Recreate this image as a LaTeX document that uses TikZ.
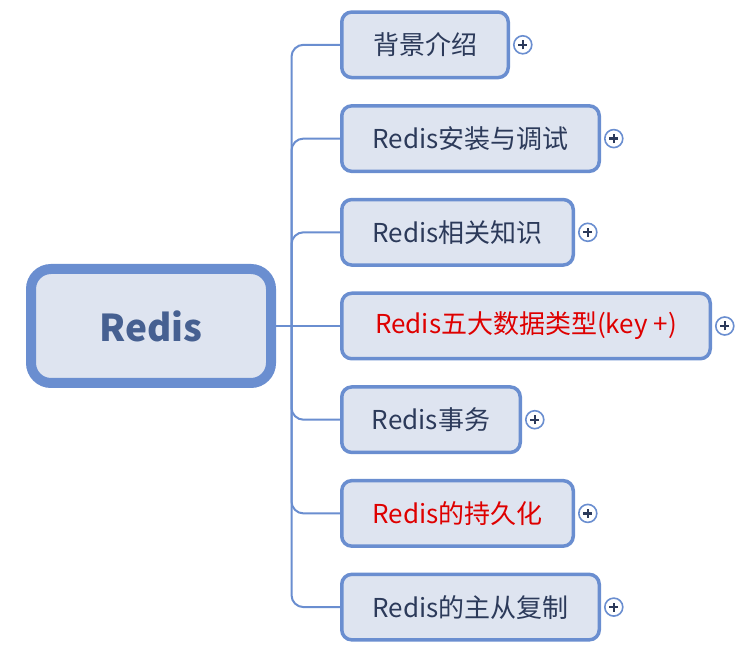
\documentclass[tikz,border=0pt]{standalone}
\usepackage{fontspec}
\usetikzlibrary{positioning}
\newfontfamily\cjk{Noto Sans CJK SC}
\definecolor{edgeblue}{RGB}{106,142,208}
\definecolor{boxfill}{RGB}{222,228,240}
\definecolor{navy}{RGB}{44,58,90}
\definecolor{rootblue}{RGB}{70,96,145}
\definecolor{alert}{RGB}{222,0,0}

\tikzset{
  topic/.style={draw=edgeblue,fill=boxfill,line width=3.5pt,rounded corners=10pt,
    minimum height=65.5pt,inner sep=0pt,anchor=west,text=navy,
    font=\cjk\fontsize{26}{30}\selectfont},
  branch/.style={draw=edgeblue,line width=2pt,rounded corners=12pt},
  expander/.style={circle,draw=edgeblue,line width=1.6pt,fill=white,minimum size=18pt,inner sep=0pt,
    path picture={\draw[navy,line width=2.2pt]
      ([xshift=-4.5pt]path picture bounding box.center) -- ([xshift=4.5pt]path picture bounding box.center)
      ([yshift=-4.5pt]path picture bounding box.center) -- ([yshift=4.5pt]path picture bounding box.center);}}
}

\begin{document}
\begin{tikzpicture}[x=1pt,y=-1pt]
\useasboundingbox (0,0) rectangle (742,660); % page frame

% central topic
\node[draw=edgeblue,fill=boxfill,line width=10pt,rounded corners=20pt,minimum width=240pt,minimum height=114pt,
  text=rootblue,font=\cjk\bfseries\fontsize{37}{40}\selectfont] (root) at (151,326) {Redis};

% subtopics
\node[topic,minimum width=166.5pt] (intro) at (340,44.8) {背景介绍};
\node[topic,minimum width=257.5pt] (install) at (340,138.6) {Redis安装与调试};
\node[topic,minimum width=231.5pt] (basics) at (340,232.3) {Redis相关知识};
\node[topic,minimum width=368.5pt,text=alert] (types) at (340,326) {Redis五大数据类型(key +)};
\node[topic,minimum width=178.5pt] (trans) at (340,419.7) {Redis事务};
\node[topic,minimum width=231.5pt,text=alert] (persist) at (340,513.4) {Redis的持久化};
\node[topic,minimum width=257.5pt] (repl) at (340,607.1) {Redis的主从复制};

% collapsed markers
\node[expander,right=3pt of intro] (intro+) {};
\node[expander,right=3pt of install] (install+) {};
\node[expander,right=3pt of basics] (basics+) {};
\node[expander,right=3pt of types] (types+) {};
\node[expander,right=3pt of trans] (trans+) {};
\node[expander,right=3pt of persist] (persist+) {};
\node[expander,right=3pt of repl] (repl+) {};

% connectors
\coordinate (hub) at (291.5,326);
\draw[branch] (root.east) -- (types.west);
\foreach \sub in {intro,install,basics,trans,persist,repl}
  \draw[branch] (hub) |- (\sub.west);
\end{tikzpicture}
\end{document}
